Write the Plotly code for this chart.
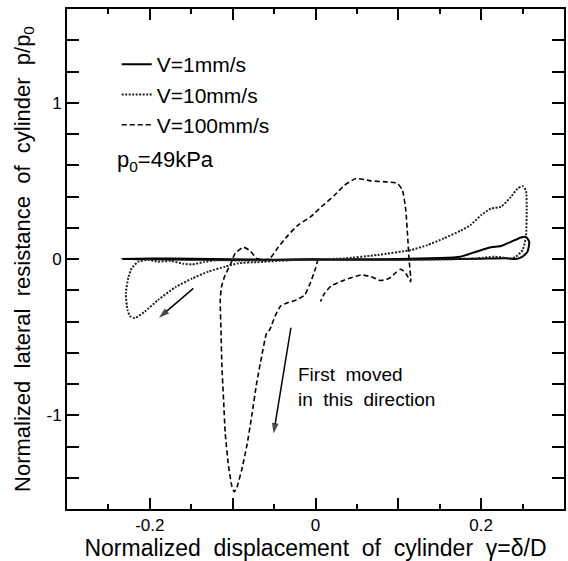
import plotly.graph_objects as go

# ---- data ----
v1_x = [0.0, -0.05, -0.1, -0.15, -0.2, -0.233, -0.2, -0.15, -0.1, -0.05, 0.0, 0.05, 0.1, 0.15,
        0.175, 0.196, 0.212, 0.224, 0.236, 0.248, 0.254, 0.258, 0.256, 0.250, 0.242, 0.232,
        0.2, 0.15, 0.1, 0.05, 0.0]
v1_y = [0.0, -0.004, -0.006, -0.004, -0.002, 0.0, 0.003, 0.002, -0.002, -0.005, -0.004, -0.002,
        0.0, 0.006, 0.015, 0.05, 0.075, 0.083, 0.11, 0.138, 0.142, 0.11, 0.047, 0.015, 0.0,
        0.004, 0.002, -0.002, -0.004, -0.004, -0.002]

v10_x = [0.0, -0.02, -0.045, -0.07, -0.093, -0.109, -0.129, -0.149, -0.169, -0.19, -0.206,
         -0.218, -0.224, -0.227, -0.229, -0.226, -0.222, -0.214, -0.202, -0.19, -0.175, -0.16,
         -0.149, -0.135, -0.12, -0.09, -0.06, -0.03, 0.0, 0.035, 0.075, 0.115, 0.135, 0.155,
         0.175, 0.187, 0.2, 0.212, 0.224, 0.236, 0.244, 0.25, 0.254, 0.255, 0.254, 0.25, 0.242,
         0.236, 0.226, 0.216, 0.195, 0.155, 0.11, 0.06, 0.02]
v10_y = [0.0, -0.005, -0.012, -0.02, -0.027, -0.049, -0.08, -0.125, -0.18, -0.262, -0.336,
         -0.378, -0.365, -0.325, -0.22, -0.12, -0.06, -0.017, -0.006, -0.017, -0.012, -0.03,
         -0.035, -0.02, -0.008, -0.01, -0.008, -0.005, -0.003, 0.004, 0.026, 0.057, 0.089, 0.132,
         0.181, 0.217, 0.281, 0.323, 0.334, 0.398, 0.451, 0.466, 0.44, 0.313, 0.142, 0.057, 0.015,
         0.004, 0.01, 0.015, 0.004, -0.002, -0.004, -0.004, -0.003]

v100_x = [0.003, 0.0, -0.006, -0.013, -0.023, -0.033, -0.042, -0.049, -0.055, -0.059, -0.065,
          -0.071, -0.077, -0.083, -0.089, -0.095, -0.098, -0.101, -0.105, -0.109, -0.111, -0.113,
          -0.114, -0.115, -0.114, -0.113, -0.109, -0.103, -0.097, -0.087, -0.079, -0.071, -0.063,
          -0.055, -0.045, -0.033, -0.021, -0.005, 0.007, 0.023, 0.035, 0.049, 0.067, 0.087, 0.099,
          0.105, 0.109, 0.111, 0.113, 0.115, 0.109, 0.103, 0.097, 0.089, 0.079, 0.067, 0.055,
          0.035, 0.019, 0.011, 0.006]
v100_y = [0.0, -0.06, -0.15, -0.23, -0.262, -0.279, -0.30, -0.368, -0.45, -0.474, -0.623,
          -0.793, -1.006, -1.198, -1.347, -1.463, -1.491, -1.453, -1.325, -1.113, -0.90, -0.687,
          -0.474, -0.262, -0.2, -0.166, -0.102, -0.038, 0.036, 0.075, 0.053, 0.004, -0.006,
          0.004, 0.075, 0.153, 0.217, 0.274, 0.334, 0.408, 0.472, 0.515, 0.50, 0.493, 0.483,
          0.44, 0.313, 0.164, -0.006, -0.145, -0.091, -0.066, -0.087, -0.123, -0.138, -0.113,
          -0.102, -0.134, -0.172, -0.219, -0.272]

series_names = ["V=1mm/s", "V=10mm/s", "V=100mm/s"]

x_label_vals = [-0.2, 0.0, 0.2]
x_label_text = ["-0.2", "0", "0.2"]
x_unlabeled_major = [-0.1, 0.1]
y_tickvals = [-1, 0, 1]
y_ticktext = ["-1", "0", "1"]

# arrows: tail (x, y) -> head (x, y)
arrow_left_x = [-0.1475, -0.189]
arrow_left_y = [-0.188, -0.376]
arrow_first_x = [-0.0297, -0.0506]
arrow_first_y = [-0.440, -1.117]

FONT = "Liberation Sans, Arial, Helvetica, sans-serif"
SP = " \u00a0"

fig = go.Figure()
fig.add_trace(go.Scatter(x=v1_x, y=v1_y, mode="lines", name=series_names[0],
                         line=dict(color="black", width=2, dash="solid", shape="spline", smoothing=0.5)))
fig.add_trace(go.Scatter(x=v10_x, y=v10_y, mode="lines", name=series_names[1],
                         line=dict(color="#222", width=2, dash="2px,1.5px", shape="spline", smoothing=0.5)))
fig.add_trace(go.Scatter(x=v100_x, y=v100_y, mode="lines", name=series_names[2],
                         line=dict(color="black", width=1.6, dash="5px,3px", shape="spline", smoothing=0.5)))

for ax_, ay_ in ((arrow_left_x, arrow_left_y), (arrow_first_x, arrow_first_y)):
    fig.add_trace(go.Scatter(x=ax_, y=ay_, xaxis="x2", mode="lines+markers", showlegend=False,
                             hoverinfo="skip",
                             line=dict(color="black", width=1.5),
                             marker=dict(symbol="arrow", size=[0, 11], angleref="previous",
                                         color="black", line=dict(width=0))))

annotations = [
    dict(text="p<sub>0</sub>=49kPa", xref="paper", yref="paper", x=0.097, y=0.697,
         xanchor="left", yanchor="middle", showarrow=False, font=dict(size=22, color="black")),
    dict(text="First" + SP + "moved<br>in" + SP + "this" + SP + "direction", xref="x", yref="y",
         x=-0.023, y=-0.82, xanchor="left", yanchor="middle", align="left", showarrow=False,
         font=dict(size=19, color="black")),
]

fig.update_layout(
    width=568, height=561,
    margin=dict(l=67, r=2, t=9, b=52),
    paper_bgcolor="white", plot_bgcolor="white",
    font=dict(family=FONT, color="black"),
    showlegend=True,
    legend=dict(x=0.10, y=0.93, xanchor="left", yanchor="top", bgcolor="rgba(0,0,0,0)",
                font=dict(size=21, color="black"), borderwidth=0, tracegroupgap=0),
    annotations=annotations,
    xaxis=dict(
        range=[-0.3, 0.3], showgrid=False, zeroline=False,
        showline=True, linecolor="black", linewidth=2, mirror="allticks",
        ticks="inside", ticklen=11, tickwidth=2, tickcolor="black",
        tickvals=x_label_vals, ticktext=x_label_text, tickfont=dict(size=17, color="black"),
        minor=dict(dtick=0.05, tick0=0, ticks="inside", ticklen=5, tickwidth=2, tickcolor="black"),
        title=dict(text="Normalized" + SP + "displacement" + SP + "of" + SP + "cylinder" + SP + "γ=δ/D",
                   font=dict(size=23, color="black"), standoff=0),
    ),
    xaxis2=dict(overlaying="x", matches="x", anchor="y", side="bottom", showgrid=False,
                zeroline=False, showline=True, linecolor="black", linewidth=2, mirror="ticks",
                ticks="inside", ticklen=11, tickwidth=2, tickcolor="black",
                tickvals=x_unlabeled_major, showticklabels=False),
    yaxis=dict(
        range=[-1.6, 1.6], showgrid=False, zeroline=False,
        showline=True, linecolor="black", linewidth=2, mirror="allticks",
        ticks="inside", ticklen=12, tickwidth=2, tickcolor="black",
        tickvals=y_tickvals, ticktext=y_ticktext, tickfont=dict(size=17, color="black"),
        minor=dict(dtick=0.2, tick0=0, ticks="inside", ticklen=7, tickwidth=2, tickcolor="black"),
        title=dict(text="Normalized" + SP + "lateral" + SP + "resistance" + SP + "of" + SP + "cylinder" + SP + "p/p<sub>0</sub>",
                   font=dict(size=22, color="black"), standoff=10),
    ),
)

fig.write_html("out.html")
